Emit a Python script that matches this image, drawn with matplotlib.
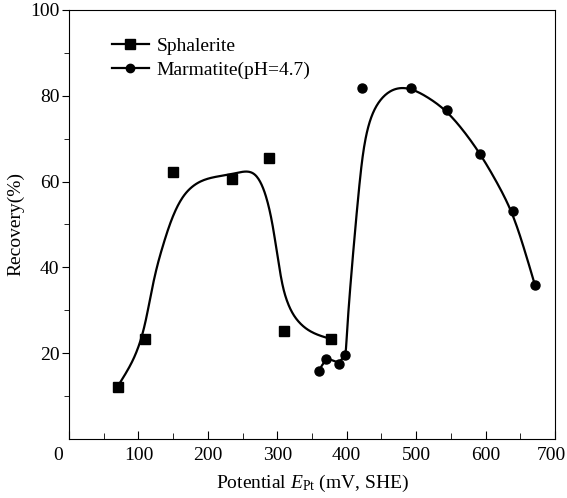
import numpy as np
import matplotlib
matplotlib.use('Agg')
import matplotlib.pyplot as plt
import matplotlib.transforms as mtransforms
from matplotlib.lines import Line2D

plt.rcParams['font.family'] = ['Liberation Serif', 'DejaVu Serif']
plt.rcParams['mathtext.fontset'] = 'custom'
plt.rcParams['mathtext.rm'] = 'Liberation Serif'
plt.rcParams['mathtext.it'] = 'Liberation Serif:italic'

# measured points
sph_x = [70, 110, 150, 235, 288, 310, 378]
sph_y = [12.2, 23.2, 62.2, 60.5, 65.4, 25.2, 23.2]

mar_x = [360, 370, 389, 398, 422, 492, 545, 592, 639, 671]
mar_y = [15.9, 18.6, 17.5, 19.5, 81.7, 81.9, 76.7, 66.4, 53.2, 36.0]

# fitted curves (used as spline control points)
sph_cx = [70, 80, 90, 98, 105, 112, 119, 127, 136, 148, 165, 189, 217, 237,
          256, 270, 282, 292, 299, 305, 311, 323, 342, 362, 378]
sph_cy = [12.2, 14.8, 17.6, 20.5, 23.8, 28.5, 34.7, 40.5, 45.5, 51.6, 57.3,
          60.4, 61.3, 61.8, 62.6, 61.8, 58.0, 51.5, 44.0, 37.8, 33.2, 28.5,
          25.4, 24.0, 23.3]

mar_cx = [360, 370, 381, 389, 398, 399, 402, 410, 417, 424, 434, 448, 467,
          491, 520, 544, 568, 592, 615, 638, 655, 671]
mar_cy = [15.9, 18.8, 18.3, 17.6, 19.7, 20.5, 29.3, 44.8, 57.3, 68.1, 75.1,
          79.3, 81.8, 82.0, 79.4, 76.5, 72.0, 66.6, 60.3, 53.2, 44.8, 36.0]


def smooth(xs, ys, n=16):
    # uniform cubic b-spline with clamped ends
    p = np.column_stack([xs, ys]).astype(float)
    p = np.vstack([p[0], p[0], p, p[-1], p[-1]])
    t = np.linspace(0, 1, n, endpoint=False)[:, None]
    b0 = (1 - t) ** 3 / 6
    b1 = (3 * t ** 3 - 6 * t ** 2 + 4) / 6
    b2 = (-3 * t ** 3 + 3 * t ** 2 + 3 * t + 1) / 6
    b3 = t ** 3 / 6
    out = [b0 * p[i] + b1 * p[i + 1] + b2 * p[i + 2] + b3 * p[i + 3]
           for i in range(len(p) - 3)]
    out = np.vstack(out + [p[-1][None, :]])
    return out[:, 0], out[:, 1]


fig = plt.figure(figsize=(5.67, 4.98), dpi=100)
ax = fig.add_axes([0.1217, 0.1185, 0.857, 0.8615])

ax.plot(*smooth(sph_cx, sph_cy), color='k', lw=1.6)
ax.plot(*smooth(mar_cx, mar_cy), color='k', lw=1.6)
ax.plot(sph_x, sph_y, 's', color='k', ms=6.5, ls='none')
ax.plot(mar_x, mar_y, 'o', color='k', ms=6.5, ls='none')

ax.set_xlim(0, 700)
ax.set_ylim(0, 100)
ax.set_xticks(np.arange(0, 701, 100))
ax.set_xticks(np.arange(50, 700, 100), minor=True)
ax.set_yticks(np.arange(20, 101, 20))
ax.set_yticks(np.arange(10, 100, 20), minor=True)

ax.tick_params(axis='x', which='both', direction='in', labelsize=14, pad=6)
ax.tick_params(axis='x', which='major', length=6)
ax.tick_params(axis='x', which='minor', length=4)
ax.tick_params(axis='y', which='both', direction='out', labelsize=14, pad=2)
ax.tick_params(axis='y', which='major', length=5)
ax.tick_params(axis='y', which='minor', length=3.5)

# origin label sits a bit to the left, last one pulled in from the edge
xl = ax.get_xticklabels()
xl[0].set_transform(xl[0].get_transform() +
                    mtransforms.ScaledTranslation(-0.11, 0, fig.dpi_scale_trans))
xl[-1].set_transform(xl[-1].get_transform() +
                     mtransforms.ScaledTranslation(-0.04, 0, fig.dpi_scale_trans))

ax.set_xlabel(r'Potential $E_{\rm Pt}$ (mV, SHE)', fontsize=14, labelpad=6)
ax.set_ylabel('Recovery(%)', fontsize=14, labelpad=4)

handles = [Line2D([], [], color='k', lw=1.6, marker='s', ms=6.5),
           Line2D([], [], color='k', lw=1.6, marker='o', ms=6)]
ax.legend(handles, ['Sphalerite', 'Marmatite(pH=4.7)'], loc='upper left',
          bbox_to_anchor=(0.072, 0.955), frameon=False, fontsize=14,
          handlelength=1.9, handletextpad=0.4, labelspacing=0.32,
          borderaxespad=0)

fig.savefig('out.png', dpi=100)
